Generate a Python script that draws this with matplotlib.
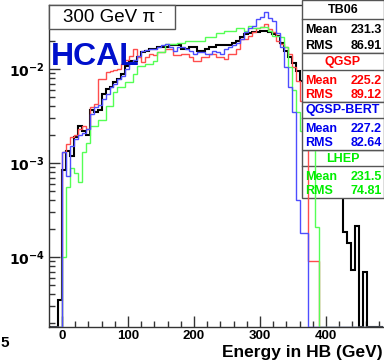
import numpy as np
import matplotlib
matplotlib.use("Agg")
import matplotlib.pyplot as plt
from matplotlib.patches import Rectangle
from matplotlib.ticker import FixedLocator, LogLocator, NullFormatter

plt.rcParams['font.family'] = ['Liberation Sans', 'DejaVu Sans']

# ---------------- data (6 GeV bins, value = fraction per bin) ----------------
bin_width = 6
tb06_start = -6
tb06 = [3.5e-5, 8.5e-4, 1.35e-3, 1.2e-3, 1.9e-3, 2.45e-3, 2.2e-3, 2.0e-3, 3.7e-3, 3.5e-3,
        3.7e-3, 5.4e-3, 6.1e-3, 6.5e-3, 7.2e-3, 7.8e-3, 8.9e-3, 0.0108, 0.0122, 0.0122,
        0.0134, 0.0152, 0.0156, 0.0164, 0.0164, 0.0172, 0.0172, 0.0172, 0.018, 0.018,
        0.018, 0.0164, 0.0164, 0.0172, 0.0172, 0.0157, 0.0157, 0.0164, 0.0172, 0.0172,
        0.018, 0.018, 0.018, 0.018, 0.019, 0.020, 0.0219, 0.0237, 0.0243, 0.025,
        0.025, 0.0255, 0.0255, 0.025, 0.0235, 0.0225, 0.019, 0.0156, 0.0135, 0.0115,
        0.0095, 0.0075, 0.005, 0.0035, 0.0025, 0.0018, 0.0013, 0.001, 0.0008, 0.0006,
        0.0005, 0.00045, 1.85e-4, 1.4e-4, 7.3e-5, 2.15e-4, 0.0, 7e-5]

qgsp_start = 0
qgsp = [1.3e-3, 1.6e-3, 1.9e-3, 2.0e-3, 2.3e-3, 2.45e-3, 2.28e-3, 3.9e-3, 4.2e-3, 7.8e-3,
        7.8e-3, 9.3e-3, 9.5e-3, 0.0098, 0.010, 0.0113, 0.0125, 0.0138, 0.0164, 0.0135,
        0.012, 0.0135, 0.0145, 0.014, 0.015, 0.015, 0.0164, 0.0164, 0.014, 0.014,
        0.0145, 0.0145, 0.0135, 0.0122, 0.0122, 0.0135, 0.0135, 0.0145, 0.0145, 0.0135,
        0.0135, 0.0128, 0.0145, 0.0145, 0.0164, 0.021, 0.021, 0.0225, 0.025, 0.027,
        0.0283, 0.030, 0.0268, 0.025, 0.0199, 0.0185, 0.0172, 0.0145, 0.0105, 0.0074,
        0.0046, 0.0025, 9e-5, 9e-5, 9e-5]

bert_start = 0
bert = [1.3e-3, 7.2e-4, 1.5e-3, 1.78e-3, 2.0e-3, 2.1e-3, 2.28e-3, 3.3e-3, 3.9e-3, 4.1e-3,
        4.8e-3, 5.4e-3, 6.5e-3, 7.0e-3, 7.8e-3, 8.4e-3, 0.010, 0.0115, 0.0125, 0.0138,
        0.0156, 0.016, 0.0164, 0.0164, 0.017, 0.018, 0.0185, 0.017, 0.0156, 0.0172,
        0.0172, 0.0164, 0.0155, 0.0145, 0.015, 0.015, 0.0145, 0.0145, 0.0156, 0.015,
        0.0145, 0.0164, 0.017, 0.018, 0.019, 0.021, 0.025, 0.027, 0.029, 0.034,
        0.036, 0.0405, 0.035, 0.0325, 0.024, 0.017, 0.0105, 0.0064, 0.0035, 4e-4,
        1.8e-4, 1.8e-4]

lhep_start = 0
lhep = [1e-4, 5.5e-4, 8.9e-4, 7.9e-4, 6.3e-4, 1.3e-3, 1.65e-3, 2.45e-3, 2.45e-3, 2.9e-3,
        2.9e-3, 4.0e-3, 4.0e-3, 5.7e-3, 6.4e-3, 6.4e-3, 7.2e-3, 7.2e-3, 8.9e-3, 0.0108,
        0.0108, 0.0113, 0.0113, 0.0122, 0.015, 0.015, 0.0185, 0.0185, 0.0185, 0.019,
        0.019, 0.020, 0.020, 0.020, 0.020, 0.020, 0.022, 0.022, 0.022, 0.024,
        0.024, 0.0255, 0.0255, 0.0255, 0.027, 0.027, 0.0255, 0.029, 0.027, 0.027,
        0.028, 0.028, 0.0255, 0.0225, 0.0225, 0.022, 0.017, 0.0105, 0.006, 0.0035,
        0.0022, 0.002, 0.0018, 0.0016, 2.1e-4]

stats = [("TB06", "231.3", "86.91", "#000000"),
         ("QGSP", "225.2", "89.12", "#ff0000"),
         ("QGSP-BERT", "227.2", "82.64", "#0000ee"),
         ("LHEP", "231.5", "74.81", "#00ee00")]

# ---------------- figure ----------------
W, H = 384, 364
fig = plt.figure(figsize=(W / 100, H / 100), dpi=100)
ax = fig.add_axes([49 / W, 1 - 327 / H, (W - 49) / W, (327 - 5) / H])

ymin = 10 ** (-4 - 70 / 94)
ymax = 10 ** (-2 + 64 / 94)
xmin, xmax = -19.7, 487.9
edges = np.arange(-18, 487, bin_width)

def full(start, vals):
    arr = np.full(len(edges) - 1, ymin)
    i0 = int((start - edges[0]) // bin_width)
    v = np.array(vals, dtype=float)
    v[v <= 0] = ymin
    arr[i0:i0 + len(v)] = v
    return arr

ax.stairs(full(tb06_start, tb06), edges, baseline=None, color='black', lw=1.5, zorder=2)
ax.stairs(full(qgsp_start, qgsp), edges, baseline=None, color='#ff4d4d', lw=1.0, zorder=3)
ax.stairs(full(lhep_start, lhep), edges, baseline=None, color='#55ff55', lw=1.0, zorder=3.1)
ax.stairs(full(bert_start, bert), edges, baseline=None, color='#4d4dff', lw=1.0, zorder=3.2)

ax.set_yscale('log')
ax.set_xlim(xmin, xmax)
ax.set_ylim(ymin, ymax)

ax.xaxis.set_major_locator(FixedLocator([0, 100, 200, 300, 400]))
ax.xaxis.set_minor_locator(FixedLocator(np.arange(-20, 490, 20)))
ax.yaxis.set_major_locator(FixedLocator([1e-4, 1e-3, 1e-2]))
ax.yaxis.set_minor_locator(LogLocator(base=10, subs=np.arange(2, 10)))
ax.yaxis.set_minor_formatter(NullFormatter())
ax.set_xticklabels(['0', '100', '200', '300', '400'], fontsize=9.5, fontweight='bold')
ax.set_yticklabels([r'$\mathbf{10^{-4}}$', r'$\mathbf{10^{-3}}$', r'$\mathbf{10^{-2}}$'], fontsize=10)
ax.tick_params(which='major', direction='in', length=8, width=1, color='#333333', pad=2)
ax.tick_params(which='minor', direction='in', length=4, width=1, color='#333333')
ax.tick_params(axis='y', which='major', pad=3)
for s in ['left', 'bottom', 'top']:
    ax.spines[s].set_color('#333333')
    ax.spines[s].set_linewidth(1)
ax.spines['right'].set_visible(False)

def fx(x):
    return x / W

def fy(y):
    return 1 - y / H

# title box "300 GeV pi-"
ax.add_patch(Rectangle((fx(49), fy(29)), fx(175) - fx(49), fy(5) - fy(29),
                       transform=fig.transFigure, facecolor='white', edgecolor='#555555',
                       lw=1, zorder=6, clip_on=False))
ax.text(fx(63), fy(18), '300 GeV \u03c0', transform=fig.transFigure, ha='left',
        va='center', fontsize=13.5, zorder=7)
ax.text(fx(159), fy(12), '-', transform=fig.transFigure, ha='left',
        va='center', fontsize=7, zorder=7)

ax.text(fx(51), fy(57), 'HCAL', transform=fig.transFigure, ha='left', va='center',
        fontsize=23, fontweight='bold', color='#0010cc', zorder=7)

# stat boxes
boxes = [(0, 19, 53), (53, 70, 102), (102, 118, 150), (150, 166, 198)]
for (name, mean, rms, col), (top, sep, bot) in zip(stats, boxes):
    z = 2.5 if name == "LHEP" else 5
    ax.add_patch(Rectangle((fx(302), fy(bot)), fx(384) - fx(302), fy(top) - fy(bot),
                           transform=fig.transFigure, facecolor='white', edgecolor='#555555',
                           lw=1, zorder=z, clip_on=False))
    ax.plot([fx(302), fx(384)], [fy(sep), fy(sep)], transform=fig.transFigure,
            color='#555555', lw=1, zorder=z + 0.1, clip_on=False)
    ax.text(fx(343), fy((top + sep) / 2 + 0.5), name, transform=fig.transFigure,
            ha='center', va='center', fontsize=9, fontweight='bold', color=col, zorder=7)
    r1 = sep + (bot - sep) * 0.33
    r2 = sep + (bot - sep) * 0.78
    ax.text(fx(305), fy(r1), 'Mean', transform=fig.transFigure, ha='left', va='center',
            fontsize=9, fontweight='bold', color=col, zorder=7)
    ax.text(fx(382), fy(r1), mean, transform=fig.transFigure, ha='right', va='center',
            fontsize=9, fontweight='bold', color=col, zorder=7)
    ax.text(fx(305), fy(r2), 'RMS', transform=fig.transFigure, ha='left', va='center',
            fontsize=9, fontweight='bold', color=col, zorder=7)
    ax.text(fx(382), fy(r2), rms, transform=fig.transFigure, ha='right', va='center',
            fontsize=9, fontweight='bold', color=col, zorder=7)

fig.text(fx(222), fy(353), 'Energy in HB (GeV)', ha='left', va='center',
         fontsize=12.5, fontweight='bold')
fig.text(fx(0), fy(343), '5', ha='left', va='center', fontsize=11, fontweight='bold')

fig.savefig('out.png', dpi=100)
